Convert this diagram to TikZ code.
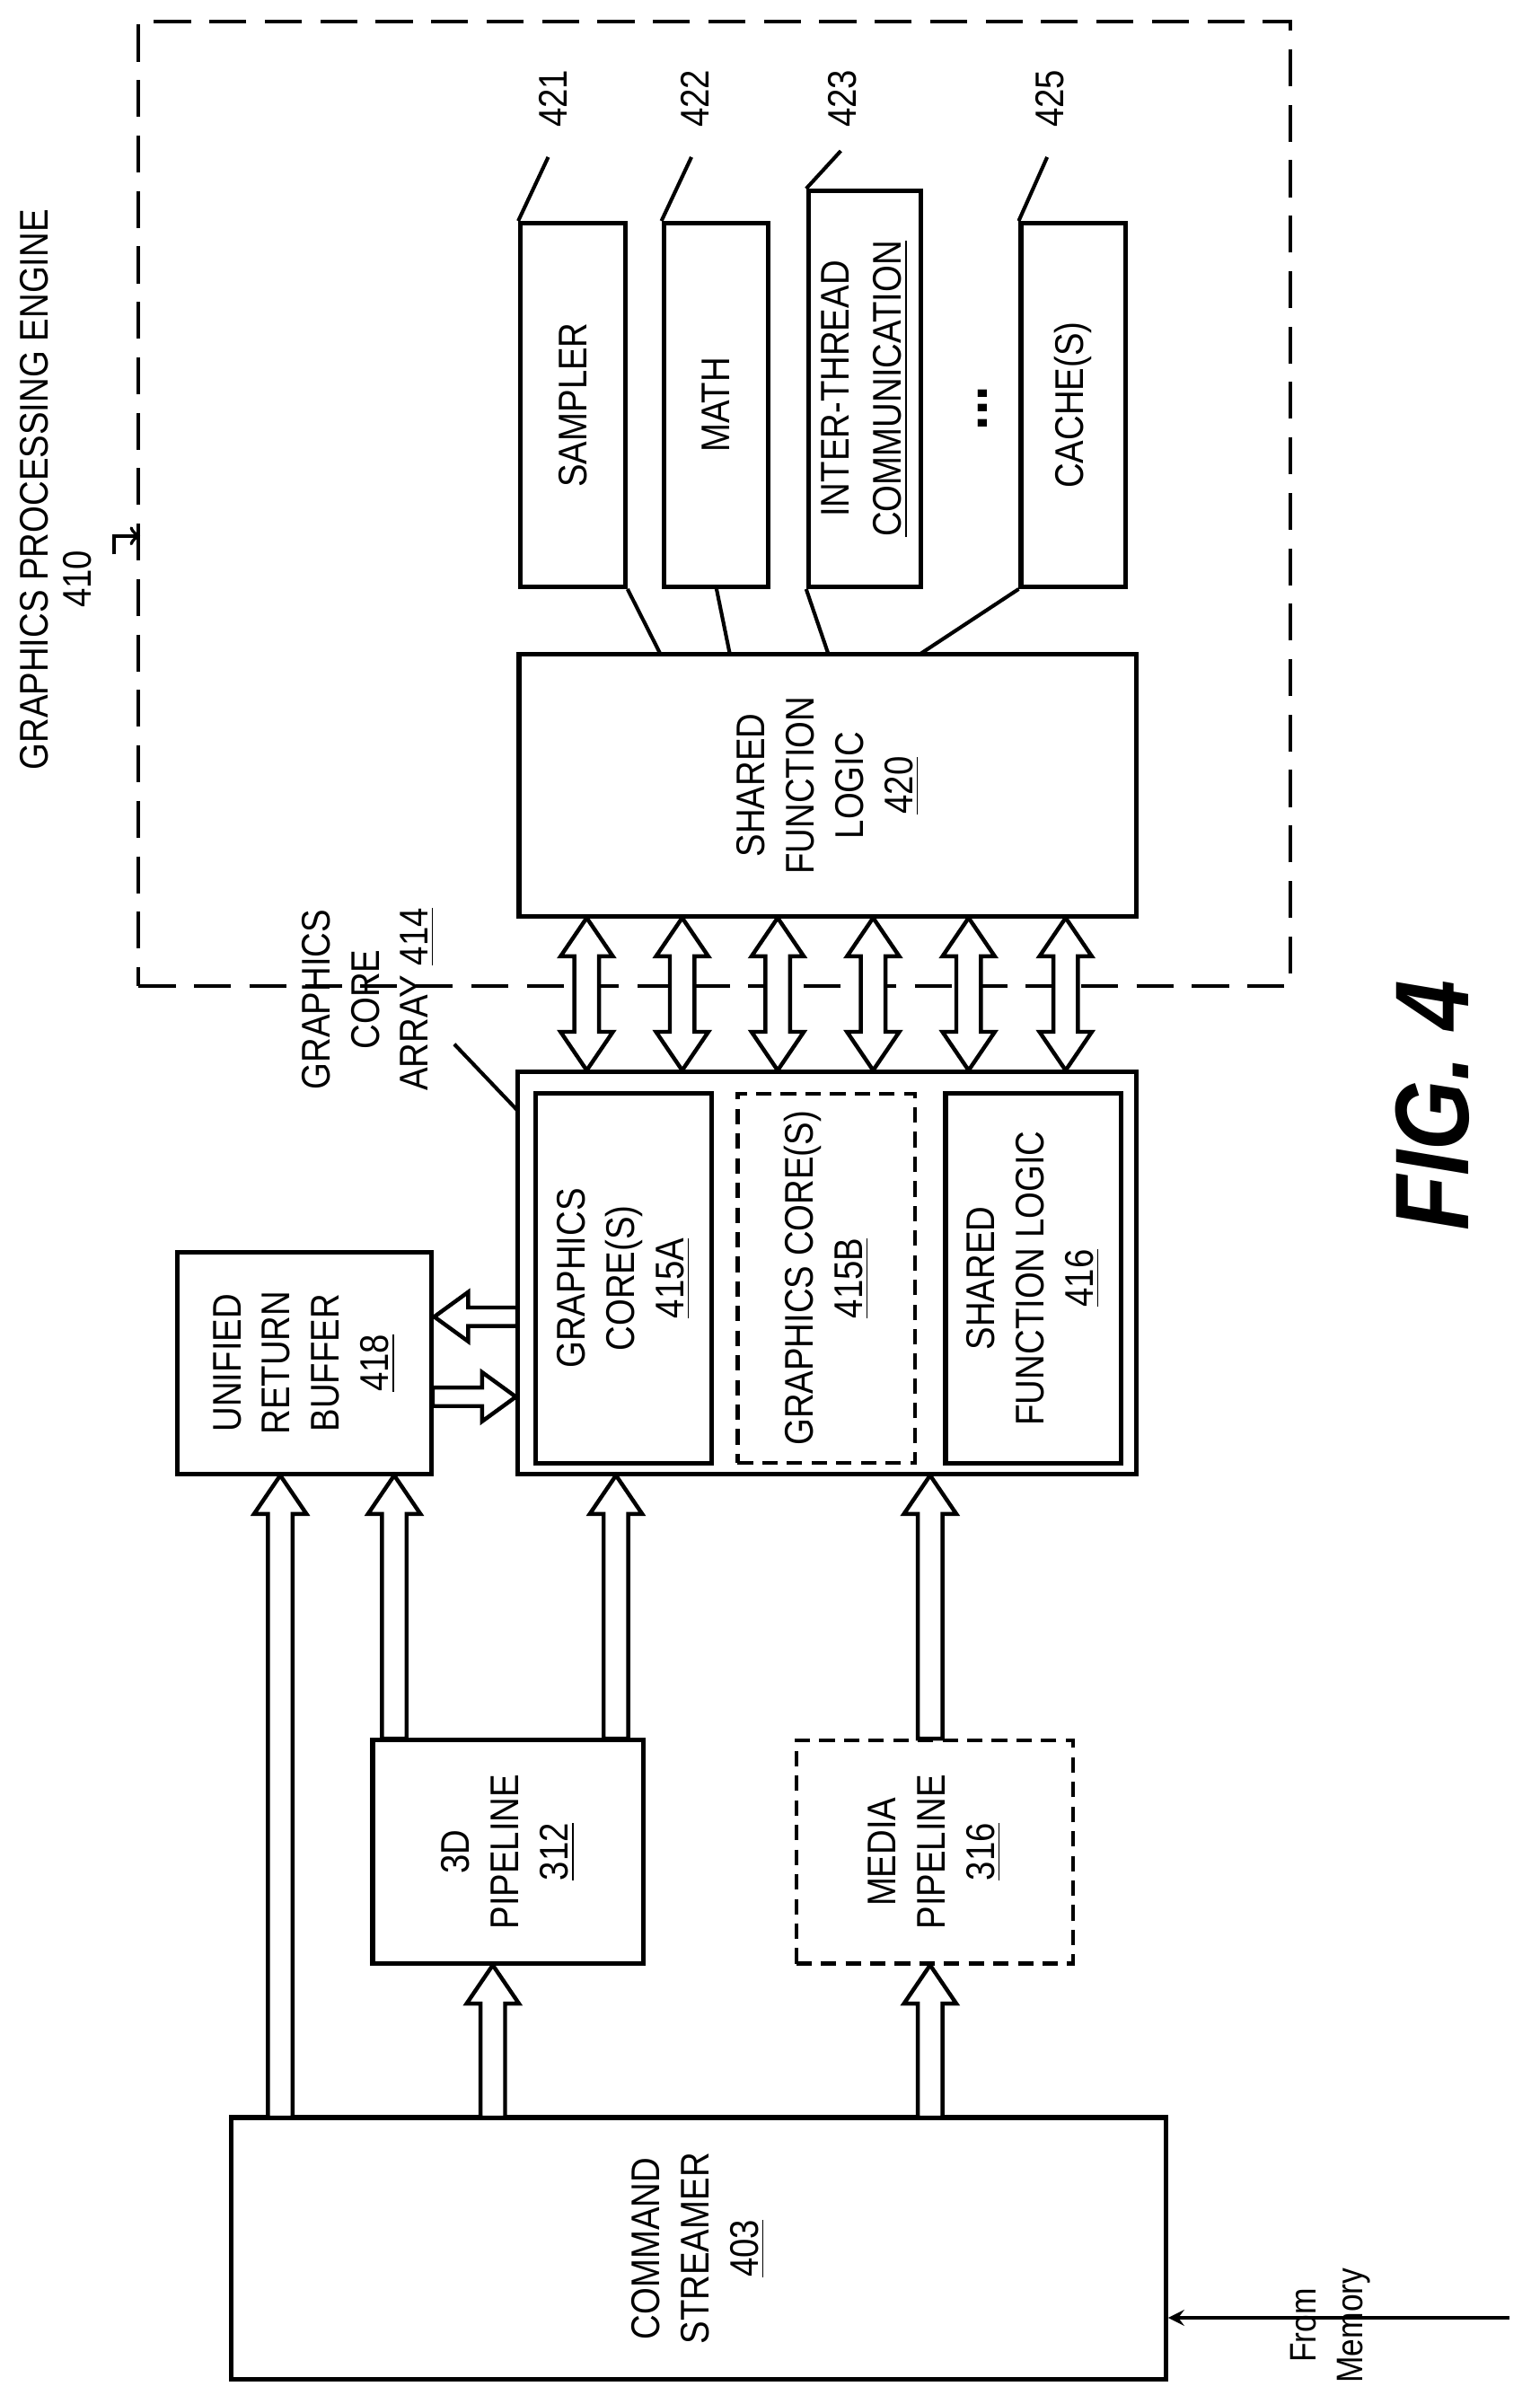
\documentclass[tikz,border=0pt]{standalone}
\usepackage{fontspec}
\setmainfont{Liberation Sans}[FakeStretch=0.86]
\usetikzlibrary{fit}
\newcommand\hup[3]{\draw[harrow] ({#1-8},#2)--({#1-8},{#3+25})--({#1-17},{#3+25})--(#1,#3)--({#1+17},{#3+25})--({#1+8},{#3+25})--({#1+8},#2)--cycle;}
\newcommand\hud[3]{\draw[harrow] ({#1-8},{#3-25})--({#1-8},{#2+25})--({#1-17},{#2+25})--(#1,#2)--({#1+17},{#2+25})--({#1+8},{#2+25})--({#1+8},{#3-25})--({#1+17},{#3-25})--(#1,#3)--({#1-17},{#3-25})--cycle;}
\begin{document}
\begin{tikzpicture}[x=0.5pt,y=-0.5pt,
  box/.style={draw,line width=1.5pt,inner sep=0pt},
  dbox/.style={draw,line width=1.2pt,inner sep=0pt,dash pattern=on 5pt off 3pt},
  txt/.style={rotate=90,align=center,font=\fontsize{13}{16}\selectfont,inner sep=0pt},
  harrow/.style={draw,line width=1.3pt,fill=white,line join=miter},
  lead/.style={line width=1.2pt}]
\useasboundingbox (0,0) rectangle (1000,1561);
% outer engine
\node[draw,line width=1.2pt,dash pattern=on 12pt off 6pt,inner sep=0pt,fit={(90,14)(838,640)}] (gpe) {};
\node[txt] (gpet) at (22,318) {GRAPHICS PROCESSING ENGINE};
\node[txt] (n410) at (50,376) {410};
\coordinate (c410) at (74,360);
\coordinate (e410) at (91,348);
\draw[lead,->] (c410) |- (e410);
% function units
\node[box,fit={(338,145)(406,381)}] (smp) {};
\node[txt] at (smp) {SAMPLER};
\node[box,fit={(431,145)(499,381)}] (math) {};
\node[txt] at (math) {MATH};
\node[box,fit={(525,124)(598,381)}] (itc) {};
\node[txt,font=\fontsize{13}{17}\selectfont] at (itc) {INTER-THREAD\\\underline{COMMUNICATION}};
\node[txt,font=\fontsize{20}{20}\bfseries] (dots) at (638,265) {...};
\node[box,fit={(663,145)(731,381)}] (cache) {};
\node[txt] at (cache) {CACHE(S)};
\node[txt] (l421) at (359,64) {421};
\node[txt] (l422) at (451,64) {422};
\node[txt] (l423) at (547,64) {423};
\node[txt] (l425) at (682,64) {425};
\coordinate (a421) at (356,102); \coordinate (a422) at (449,102);
\coordinate (a423) at (546,98); \coordinate (a425) at (680,102);
\draw[lead] (a421) -- (smp.north west);
\draw[lead] (a422) -- (math.north west);
\draw[lead] (a423) -- (itc.north west);
\draw[lead] (a425) -- (cache.north west);
% shared function logic 420
\node[box,fit={(337,425)(738,595)}] (sfl) {};
\node[txt] at (sfl) {SHARED\\FUNCTION\\LOGIC\\\underline{420}};
\draw[lead] (smp.south east) -- (429,425);
\draw[lead] (465,381) -- (474,425);
\draw[lead] (itc.south west) -- (538,425);
\draw[lead] (cache.south west) -- (597,425);
% graphics core array
\node[box,fit={(336,696)(738,957)}] (gca) {};
\node[txt] (gcat) at (239,649) {GRAPHICS\\CORE\\ARRAY \underline{414}};
\coordinate (g414) at (295,678);
\draw[lead] (g414) -- (336,721);
\node[box,fit={(348,710)(462,950)}] (c415a) {};
\node[txt] at (c415a) {GRAPHICS\\CORE(S)\\\underline{415A}};
\node[dbox,fit={(479,710)(594,950)}] (c415b) {};
\node[txt] at (c415b) {GRAPHICS CORE(S)\\\underline{415B}};
\node[box,fit={(614,710)(728,950)}] (c416) {};
\node[txt] at (c416) {SHARED\\FUNCTION LOGIC\\\underline{416}};
\foreach \x in {381,443,505,567,629,692} {\hud{\x}{596}{695}}
% unified return buffer
\node[box,fit={(115,813)(280,957)}] (urb) {};
\node[txt] at (urb) {UNIFIED\\RETURN\\BUFFER\\\underline{418}};
\draw[harrow] (336,849)--(304,849)--(304,839)--(282,855)--(304,871)--(304,861)--(336,861)--cycle;
\draw[harrow] (281,901)--(313,901)--(313,891)--(335,907)--(313,923)--(313,913)--(281,913)--cycle;
% pipelines
\node[box,fit={(242,1130)(418,1275)}] (p3d) {};
\node[txt] at (p3d) {3D\\PIPELINE\\\underline{312}};
\node[dbox,fit={(517,1130)(697,1275)}] (pmed) {};
\node[txt] at (pmed) {MEDIA\\PIPELINE\\\underline{316}};
\node[box,fit={(150,1375)(757,1545)}] (cs) {};
\node[txt] at (cs) {COMMAND\\STREAMER\\\underline{403}};
\hup{182}{1375}{958}
\hup{256}{1129}{958}
\hup{400}{1129}{958}
\hup{604}{1129}{958}
\hup{320}{1375}{1276}
\hup{604}{1375}{1276}
% from memory
\coordinate (mem) at (980,1505);
\draw[line width=1.3pt,-stealth] (mem) -- (cs.east |- mem);
\node[txt,font=\fontsize{12}{15}\selectfont] (memt) at (864,1510) {From\\Memory};
\node[rotate=90,font=\fontsize{34}{34}\bfseries\itshape] (fig) at (930,718) {FIG. 4};
\end{tikzpicture}
\end{document}
